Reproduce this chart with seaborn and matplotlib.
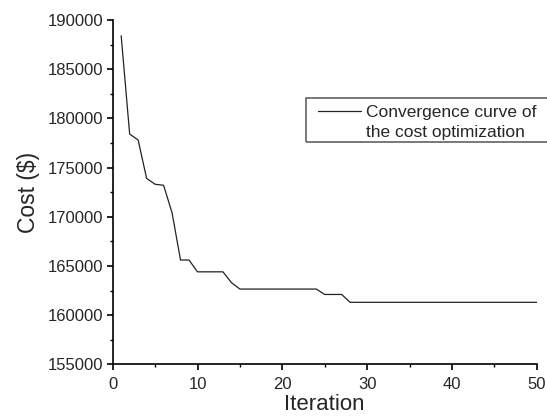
import numpy as np
import pandas as pd
import matplotlib
matplotlib.use("Agg")
import matplotlib.pyplot as plt
from matplotlib.ticker import MultipleLocator
from matplotlib.patches import Rectangle
from matplotlib.legend_handler import HandlerLine2D
import seaborn as sns

iterations = list(range(1, 51))
cost = [188400, 178400, 177800, 173900, 173300, 173200, 170400, 165600, 165600, 164400,
        164400, 164400, 164400, 163300, 162650, 162650, 162650, 162650, 162650, 162650,
        162650, 162650, 162650, 162650, 162100, 162100, 162100, 161300, 161300, 161300,
        161300, 161300, 161300, 161300, 161300, 161300, 161300, 161300, 161300, 161300,
        161300, 161300, 161300, 161300, 161300, 161300, 161300, 161300, 161300, 161300]
series_label = "Convergence curve of\nthe cost optimization"

df = pd.DataFrame({"Iteration": iterations, "Cost": cost})

sns.set_style("ticks")
plt.rcParams['font.family'] = ['Liberation Sans', 'DejaVu Sans']

W, H = 547, 418
fig = plt.figure(figsize=(W / 100, H / 100), dpi=100)
ax = fig.add_axes([112.7 / W, 1 - 364.3 / H, (536.7 - 112.7) / W, (364.3 - 20) / H])

sns.lineplot(data=df, x="Iteration", y="Cost", ax=ax, color="#222222", linewidth=0.9,
             label=series_label)

ax.set_xlim(0, 50)
ax.set_ylim(155000, 190000)
ax.xaxis.set_major_locator(MultipleLocator(10))
ax.xaxis.set_minor_locator(MultipleLocator(5))
ax.yaxis.set_major_locator(MultipleLocator(5000))
ax.yaxis.set_minor_locator(MultipleLocator(2500))

for s in ["top", "right"]:
    ax.spines[s].set_visible(False)
for s in ["left", "bottom"]:
    ax.spines[s].set_linewidth(1.2)
    ax.spines[s].set_color("black")

ax.tick_params(which="major", length=4.5, width=1.2, labelsize=12, color="black", pad=2)
ax.tick_params(which="minor", length=2.5, width=1.0, color="black")
ax.tick_params(axis="x", which="major", pad=4.5)

ax.set_xlabel("Iteration", fontsize=16, labelpad=1.5)
ax.set_ylabel("Cost ($)", fontsize=16.5, labelpad=6)


class HandlerUp(HandlerLine2D):
    def create_artists(self, legend, orig_handle, xdescent, ydescent, width, height,
                       fontsize, trans):
        arts = super().create_artists(legend, orig_handle, xdescent, ydescent, width,
                                      height, fontsize, trans)
        for a in arts:
            yd = np.asarray(a.get_ydata(), dtype=float)
            a.set_ydata(yd + 8.5)
        return arts


handles, labels = ax.get_legend_handles_labels()
leg = ax.legend(handles, labels, loc="upper left", bbox_to_anchor=(318 / W, 1 - 105 / H),
                bbox_transform=fig.transFigure, frameon=False, fontsize=12.5,
                handlelength=2.5, handletextpad=0.25, borderpad=0, borderaxespad=0,
                labelspacing=0, handler_map={handles[0]: HandlerUp()})
for t in leg.get_texts():
    t.set_linespacing(1.4)

fig.patches.append(Rectangle((305.7 / W, 1 - 141.7 / H), (550 - 305.7) / W, 44 / H,
                             transform=fig.transFigure, fill=False,
                             edgecolor="#555555", linewidth=1.1, clip_on=False))

fig.savefig("out.png", dpi=100)
